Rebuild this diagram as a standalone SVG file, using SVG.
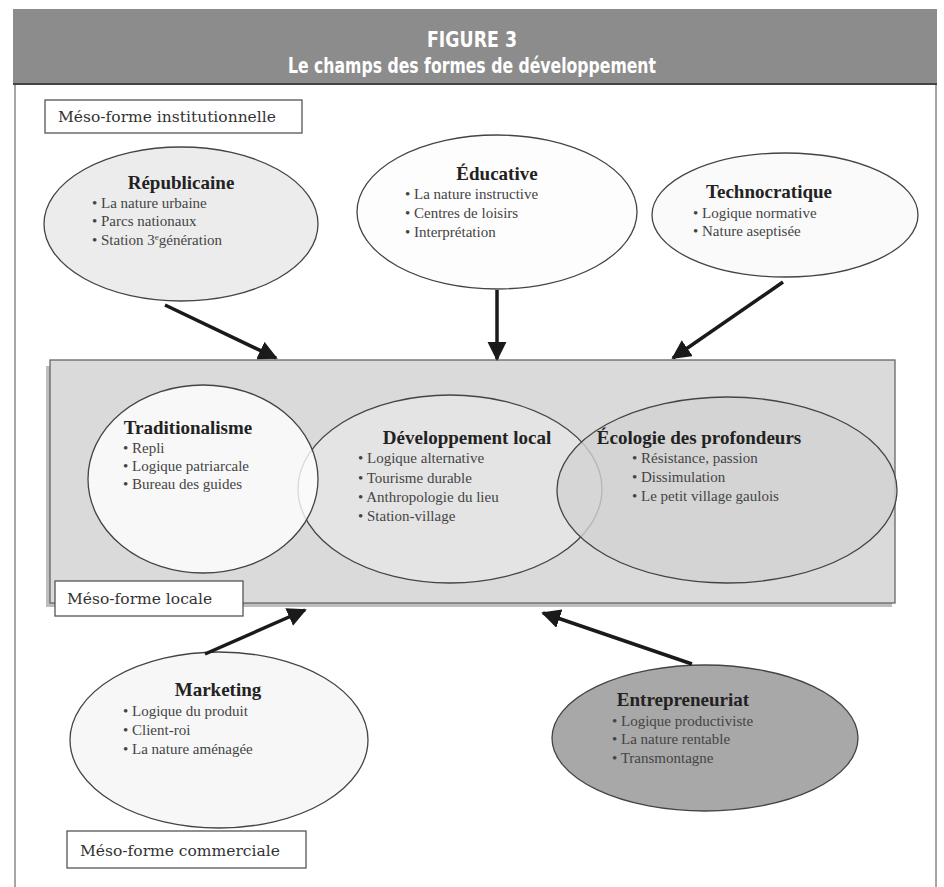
<svg xmlns="http://www.w3.org/2000/svg" width="944" height="887" viewBox="0 0 944 887">
<defs>
<style>
.ttl{font-family:"Liberation Serif","Times New Roman",serif;font-weight:bold;font-size:19px;fill:#222;text-anchor:middle}
.bl{font-family:"Liberation Serif","Times New Roman",serif;font-size:15px;fill:#444}
.meso{font-family:"DejaVu Serif","Liberation Serif",serif;font-size:15.5px;fill:#333}
.box{fill:#fff;stroke:#555;stroke-width:1.3}
.el{stroke:#444;stroke-width:1.3}
.arr{stroke:#1a1a1a;stroke-width:3.5;fill:none;marker-end:url(#ah)}
.hd{font-family:"DejaVu Sans",sans-serif;font-weight:bold;font-size:22px;fill:#fff;text-anchor:middle}
</style>
<marker id="ah" viewBox="0 0 10 10" refX="9" refY="5" markerWidth="5.5" markerHeight="5.5" orient="auto" markerUnits="strokeWidth">
<path d="M0,0 L10,5 L0,10 z" fill="#1a1a1a"/>
</marker>
</defs>
<rect x="0" y="0" width="944" height="887" fill="#fff"/>
<rect x="15" y="10" width="921" height="880" fill="#fff" stroke="#888" stroke-width="1.5"/>
<g id="header">
<rect x="13" y="9" width="924" height="76" fill="#8c8c8c"/>
<line x1="13" y1="84" x2="937" y2="84" stroke="#444" stroke-width="2"/>
<text class="hd" x="472" y="47" textLength="90" lengthAdjust="spacingAndGlyphs">FIGURE 3</text>
<text class="hd" x="472" y="73" textLength="368" lengthAdjust="spacingAndGlyphs">Le champs des formes de développement</text>
</g>
<g id="meso-institutionnelle">
<rect class="box" x="45" y="100" width="257" height="33"/>
<text class="meso" x="58" y="122">Méso-forme institutionnelle</text>
</g>
<g id="republicaine">
<ellipse class="el" cx="181" cy="224" rx="137" ry="77" fill="#ececec"/>
<text class="ttl" x="181" y="189">Républicaine</text>
<text class="bl" x="92" y="208">• La nature urbaine</text>
<text class="bl" x="92" y="226">• Parcs nationaux</text>
<text class="bl" x="92" y="245">• Station 3<tspan font-size="9" dy="-5">e</tspan><tspan dy="5">génération</tspan></text>
</g>
<g id="educative">
<ellipse class="el" cx="497" cy="212" rx="140" ry="77" fill="#fdfdfd"/>
<text class="ttl" x="497" y="180">Éducative</text>
<text class="bl" x="405" y="199">• La nature instructive</text>
<text class="bl" x="405" y="218">• Centres de loisirs</text>
<text class="bl" x="405" y="237">• Interprétation</text>
</g>
<g id="technocratique">
<ellipse class="el" cx="785" cy="215" rx="133" ry="62" fill="#fafafa"/>
<text class="ttl" x="769" y="198">Technocratique</text>
<text class="bl" x="693" y="218">• Logique normative</text>
<text class="bl" x="693" y="236">• Nature aseptisée</text>
</g>
<g id="meso-locale-zone">
<rect x="46" y="366" width="846" height="241" fill="#bdbdbd"/>
<rect x="50" y="360" width="845" height="243" fill="#dadada" stroke="#666" stroke-width="1.3"/>
</g>
<g id="developpement-local">
<ellipse class="el" cx="450" cy="489" rx="152" ry="94" fill="#e4e4e4" fill-opacity="0.9"/>
<text class="ttl" x="467" y="444">Développement local</text>
<text class="bl" x="358" y="463">• Logique alternative</text>
<text class="bl" x="358" y="483">• Tourisme durable</text>
<text class="bl" x="358" y="502">• Anthropologie du lieu</text>
<text class="bl" x="358" y="521">• Station-village</text>
</g>
<g id="traditionalisme">
<ellipse class="el" cx="203" cy="479" rx="115" ry="94" fill="#ffffff" fill-opacity="0.8"/>
<text class="ttl" x="188" y="434">Traditionalisme</text>
<text class="bl" x="123" y="453">• Repli</text>
<text class="bl" x="123" y="471">• Logique patriarcale</text>
<text class="bl" x="123" y="489">• Bureau des guides</text>
</g>
<g id="ecologie">
<ellipse class="el" cx="727" cy="490" rx="170" ry="93" fill="#d2d2d2" fill-opacity="0.8"/>
<text class="ttl" x="699" y="444">Écologie des profondeurs</text>
<text class="bl" x="632" y="463">• Résistance, passion</text>
<text class="bl" x="632" y="482">• Dissimulation</text>
<text class="bl" x="632" y="501">• Le petit village gaulois</text>
</g>
<g id="meso-locale">
<rect class="box" x="55" y="581" width="188" height="35"/>
<text class="meso" x="67" y="604">Méso-forme locale</text>
</g>
<g id="marketing">
<ellipse class="el" cx="219" cy="740" rx="149" ry="88" fill="#f7f7f7"/>
<text class="ttl" x="218" y="696">Marketing</text>
<text class="bl" x="123" y="716">• Logique du produit</text>
<text class="bl" x="123" y="735">• Client-roi</text>
<text class="bl" x="123" y="754">• La nature aménagée</text>
</g>
<g id="entrepreneuriat">
<ellipse class="el" cx="705" cy="738" rx="153" ry="73" fill="#a8a8a8"/>
<text class="ttl" x="683" y="706">Entrepreneuriat</text>
<text class="bl" x="612" y="726" fill="#333">• Logique productiviste</text>
<text class="bl" x="612" y="744">• La nature rentable</text>
<text class="bl" x="612" y="763">• Transmontagne</text>
</g>
<g id="meso-commerciale">
<rect class="box" x="67" y="831" width="239" height="37"/>
<text class="meso" x="80" y="856">Méso-forme commerciale</text>
</g>
<g id="connectors">
<line class="arr" x1="165" y1="305" x2="276" y2="358"/>
<line class="arr" x1="497" y1="290" x2="497" y2="359"/>
<line class="arr" x1="783" y1="282" x2="673" y2="358"/>
<line class="arr" x1="205" y1="654" x2="305" y2="610"/>
<line class="arr" x1="692" y1="664" x2="543" y2="613"/>
</g>
</svg>
